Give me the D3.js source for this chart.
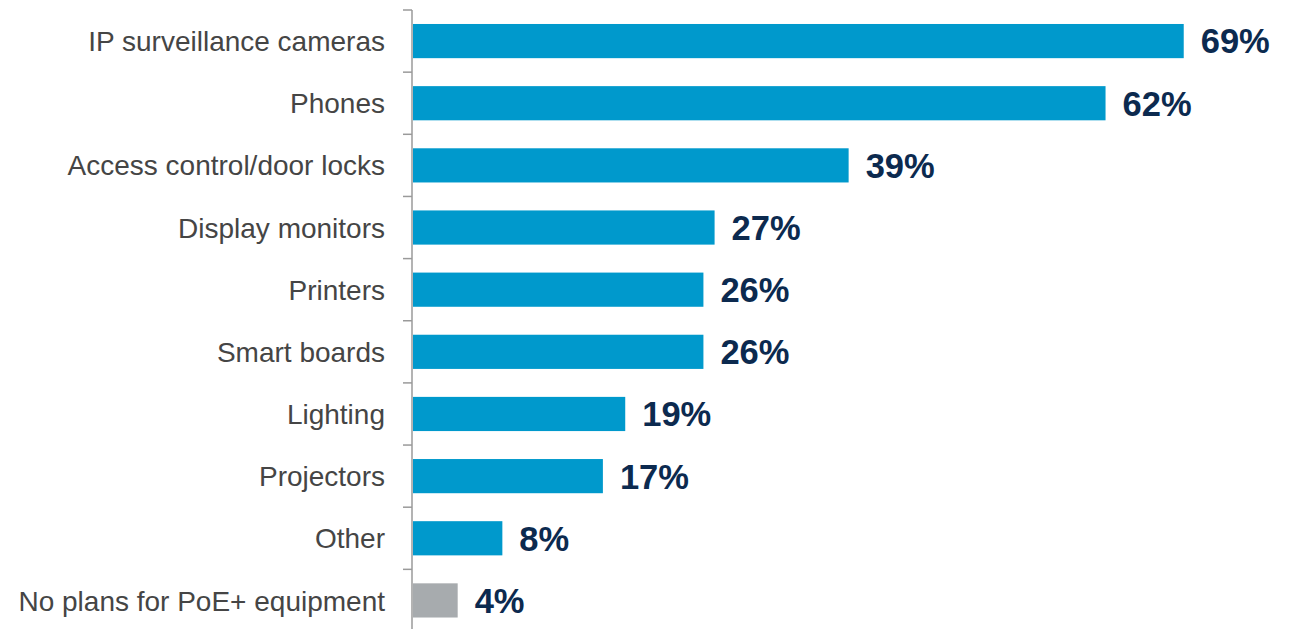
<!DOCTYPE html>
<html><head><meta charset="utf-8">
<script src="https://cdn.jsdelivr.net/npm/d3@7"></script>
<style>body{margin:0;background:#fff;}svg{display:block;}</style>
</head><body>
<svg id="chart" width="1296" height="629"></svg>
<script>
const categories = ["IP surveillance cameras","Phones","Access control/door locks","Display monitors","Printers","Smart boards","Lighting","Projectors","Other","No plans for PoE+ equipment"];
const values = [69,62,39,27,26,26,19,17,8,4];
const highlight = [false,false,false,false,false,false,false,false,false,true];

const svg = d3.select("#chart");
const x = d3.scaleLinear().domain([0,100]).range([413,1530]);
const y = d3.scaleBand().domain(categories).range([10,631.5]).paddingInner(0.45).paddingOuter(0.225);
const step = y.step();

// axis line
svg.append("line").attr("x1",412).attr("x2",412).attr("y1",10).attr("y2",629)
  .attr("stroke","#9a9a9a").attr("stroke-width",1.5);
// ticks at band boundaries
svg.selectAll("line.tick").data(categories).enter().append("line").attr("class","tick")
  .attr("x1",403).attr("x2",412)
  .attr("y1",d=>y(d)-step*0.225).attr("y2",d=>y(d)-step*0.225)
  .attr("stroke","#9a9a9a").attr("stroke-width",1.5);

// bars
svg.selectAll("rect.bar").data(categories).enter().append("rect").attr("class","bar")
  .attr("x",x(0)).attr("y",d=>y(d)).attr("height",y.bandwidth())
  .attr("width",(d,i)=>x(values[i])-x(0))
  .attr("fill",(d,i)=>highlight[i]?"#a7abae":"#0099cc");

// category labels
svg.selectAll("text.cat").data(categories).enter().append("text").attr("class","cat")
  .attr("x",385).attr("y",d=>y(d)+y.bandwidth()/2).attr("dy","0.36em")
  .attr("text-anchor","end").attr("font-family","'Liberation Sans', Arial, sans-serif")
  .attr("font-size",28).attr("fill","#454545").text(d=>d);

// value labels
svg.selectAll("text.val").data(categories).enter().append("text").attr("class","val")
  .attr("x",(d,i)=>x(values[i])+17).attr("y",d=>y(d)+y.bandwidth()/2).attr("dy","0.36em")
  .attr("font-family","'Liberation Sans', Arial, sans-serif").attr("font-weight","bold")
  .attr("font-size",34.5).attr("fill","#0c2a4f").text((d,i)=>values[i]+"%");
</script>
</body></html>
